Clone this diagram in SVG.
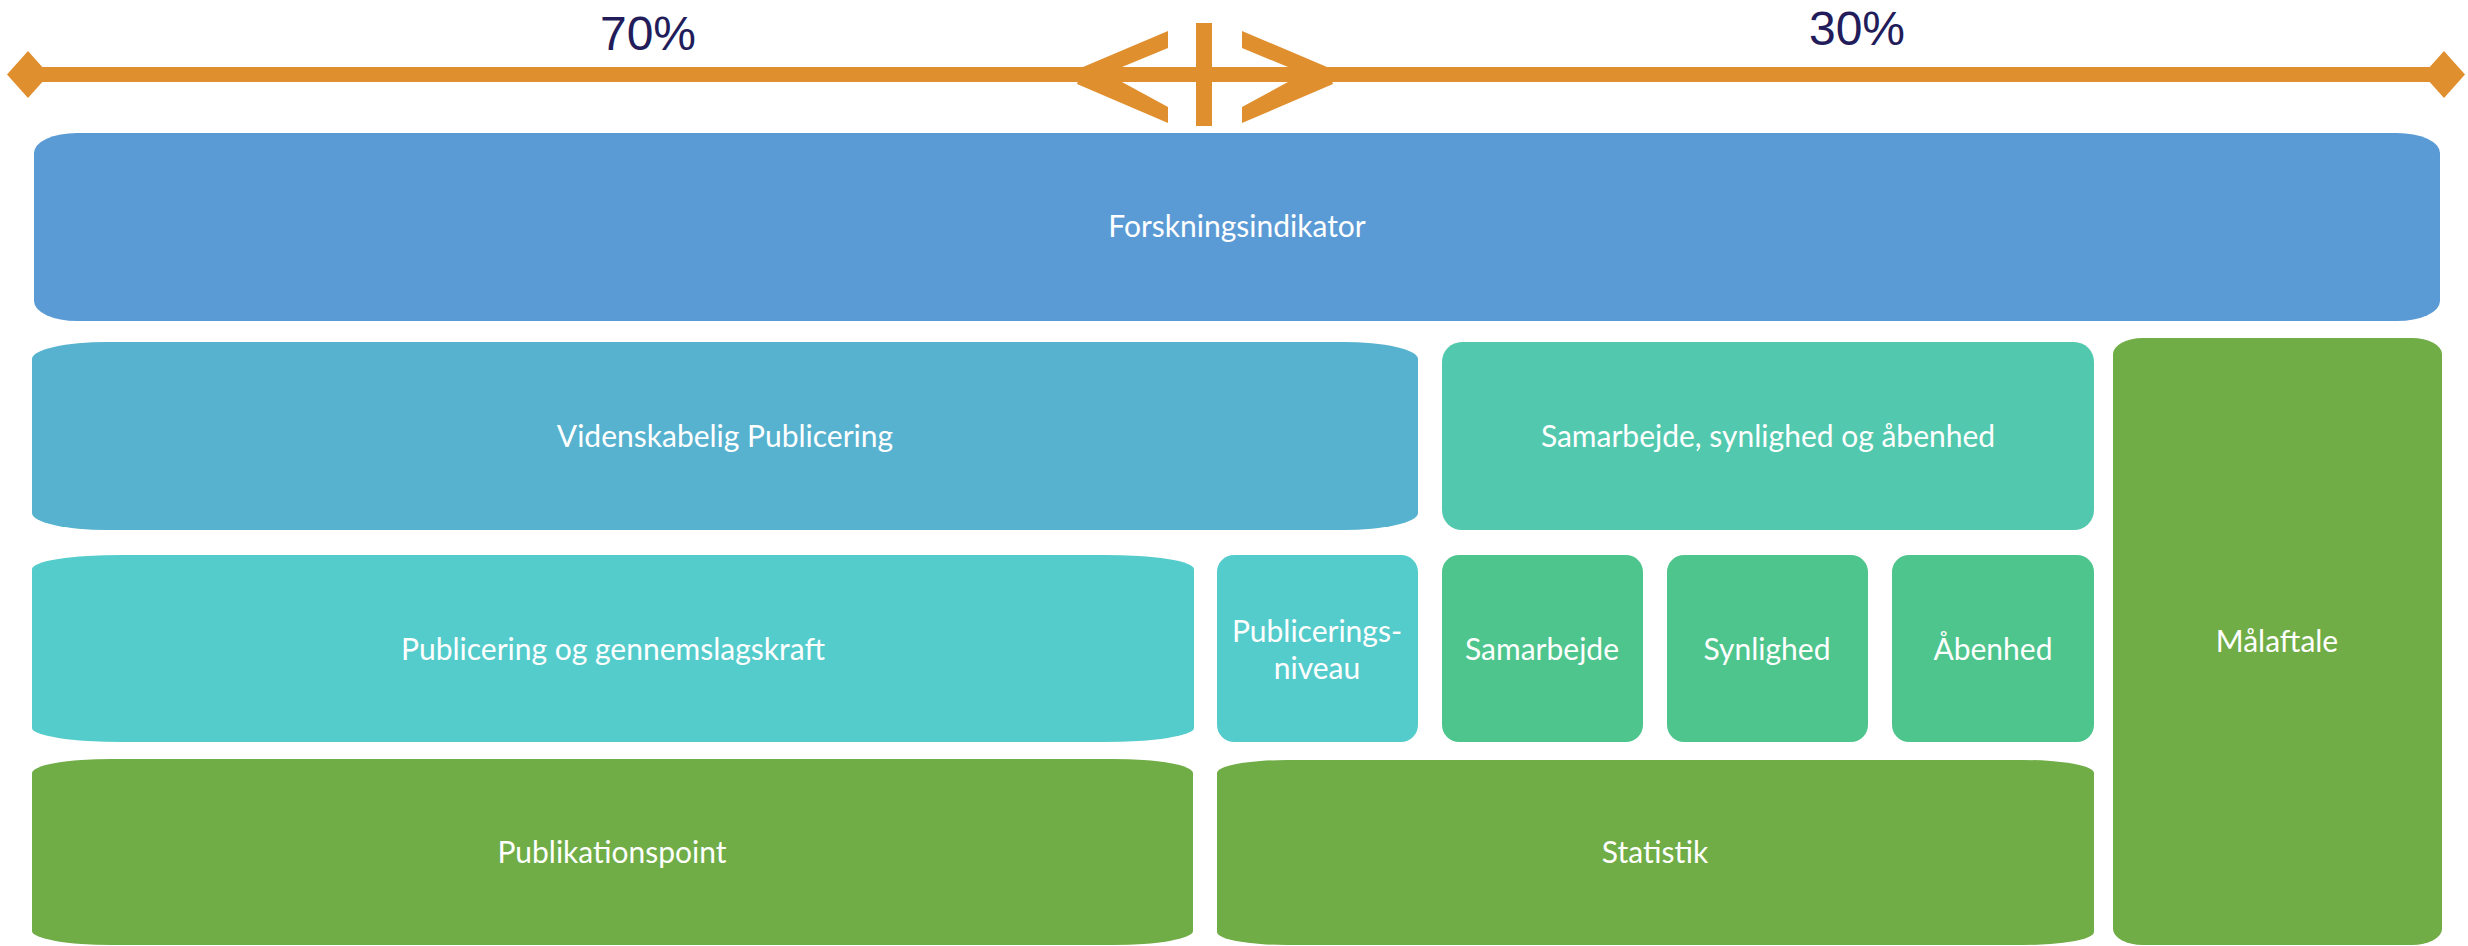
<svg xmlns="http://www.w3.org/2000/svg" width="2468" height="946" viewBox="0 0 2468 946">
<style>
.lbl{font-family:Lato,"Open Sans","Liberation Sans",sans-serif;font-size:30px;fill:#FFFFFF;text-anchor:middle}
.pct{font-family:"Liberation Sans",Arial,sans-serif;font-size:48px;fill:#221C5A;text-anchor:middle}
.orange{fill:#E08F2F}
</style>
<rect width="2468" height="946" fill="#FFFFFF"/>
<g id="scale-bar">
  <rect class="orange" x="26" y="67" width="2418" height="15"/>
  <polygon class="orange" points="7,74.5 28,51 49,74.5 28,98"/>
  <polygon class="orange" points="2423,74.5 2444,51 2465,74.5 2444,98"/>
  <rect class="orange" x="1196" y="23" width="16" height="103"/>
  <polygon class="orange" points="1168,31 1168,48 1122,67 1122,82 1168,107 1168,123 1077,84 1083,67"/>
  <polygon class="orange" points="1242,31 1242,48 1288,67 1288,82 1242,107 1242,123 1333,84 1327,67"/>
  <text class="pct" x="648" y="50">70%</text>
  <text class="pct" x="1857" y="45">30%</text>
</g>
<g id="n-forskningsindikator">
  <rect x="34" y="133" width="2406" height="188" rx="43" ry="20" fill="#5B9BD5"/>
  <text class="lbl" x="1237" y="237">Forskningsindikator</text>
</g>
<g id="n-videnskabelig">
  <rect x="32" y="342" width="1386" height="188" rx="75" ry="17" fill="#56B2CF"/>
  <text class="lbl" x="725" y="447">Videnskabelig Publicering</text>
</g>
<g id="n-samarbejde-synlighed-aabenhed">
  <rect x="1442" y="342" width="652" height="188" rx="20" ry="20" fill="#52C9AE"/>
  <text class="lbl" x="1768" y="447">Samarbejde, synlighed og åbenhed</text>
</g>
<g id="n-publicering-gennemslagskraft">
  <rect x="32" y="555" width="1162" height="187" rx="90" ry="14" fill="#55CCCC"/>
  <text class="lbl" x="613" y="660">Publicering og gennemslagskraft</text>
</g>
<g id="n-publiceringsniveau">
  <rect x="1217" y="555" width="201" height="187" rx="17" ry="17" fill="#55CCCC"/>
  <text class="lbl" x="1317" y="642">Publicerings-</text>
  <text class="lbl" x="1317" y="679">niveau</text>
</g>
<g id="n-samarbejde">
  <rect x="1442" y="555" width="201" height="187" rx="17" ry="17" fill="#4EC58D"/>
  <text class="lbl" x="1542" y="660">Samarbejde</text>
</g>
<g id="n-synlighed">
  <rect x="1667" y="555" width="201" height="187" rx="17" ry="17" fill="#4EC58D"/>
  <text class="lbl" x="1767" y="660">Synlighed</text>
</g>
<g id="n-aabenhed">
  <rect x="1892" y="555" width="202" height="187" rx="17" ry="17" fill="#4EC58D"/>
  <text class="lbl" x="1993" y="660">Åbenhed</text>
</g>
<g id="n-maalaftale">
  <rect x="2113" y="338" width="329" height="607" rx="30" ry="16" fill="#70AD47"/>
  <text class="lbl" x="2277" y="652">Målaftale</text>
</g>
<g id="n-publikationspoint">
  <rect x="32" y="759" width="1161" height="186" rx="80" ry="14" fill="#70AD47"/>
  <text class="lbl" x="612" y="863">Publikationspoint</text>
</g>
<g id="n-statistik">
  <rect x="1217" y="760" width="877" height="185" rx="70" ry="13" fill="#70AD47"/>
  <text class="lbl" x="1655" y="863">Statistik</text>
</g>
<g id="connectors"></g>
</svg>
